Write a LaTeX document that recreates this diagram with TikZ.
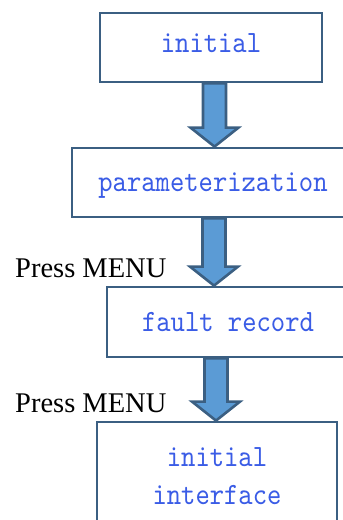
\documentclass[tikz,border=0pt]{standalone}
\usepackage{fontspec}
\setmainfont{Liberation Serif}
\newfontfamily\stepfont[FakeStretch=0.88]{lmmono10-regular.otf}
\usetikzlibrary{calc}

\definecolor{boxline}{HTML}{3B5F82}
\definecolor{arrowfill}{HTML}{5B9BD5}
\definecolor{textblue}{HTML}{3A5CE6}

\tikzset{
  stepbox/.style={draw=boxline, line width=2.8pt, fill=white, inner sep=0pt,
    align=center, text=textblue, font=\fontsize{31}{38}\selectfont\stepfont},
  fatarrow/.style={draw=boxline, fill=arrowfill, line width=2.6pt, line join=miter,
    to path={let \p1=(\tikztostart), \p2=(\tikztotarget) in
      (\x1-11.5pt,\y1) -- (\x1+11.5pt,\y1) -- (\x1+11.5pt,\y2+19pt)
      -- (\x1+24pt,\y2+19pt) -- (\x2,\y2) -- (\x1-24pt,\y2+19pt)
      -- (\x1-11.5pt,\y2+19pt) -- cycle}},
  presslabel/.style={anchor=base west, inner sep=0pt, font=\fontsize{28.5}{34}\selectfont}
}

\begin{document}
\begin{tikzpicture}[x=1pt,y=-1pt]

    \useasboundingbox (0,0) rectangle (343,520);
    \clip (0,0) rectangle (343,520);

    % steps
    \node[stepbox, minimum width=222pt, minimum height=69pt, text depth=9pt] (init) at (211,47.5) {initial};
    \node[stepbox, minimum width=282pt, minimum height=69pt, text height=25pt] (param) at (213,182.5) {parameterization};
    \node[stepbox, minimum width=242pt, minimum height=70pt] (fault) at (228,322) {fault record};
    \node[stepbox, minimum width=240pt, minimum height=108pt] (home) at (217,476) {initial\\interface};

    % arrow axes
    \coordinate (ax1) at (214.5,0);
    \coordinate (ax2) at (214,0);
    \coordinate (ax3) at (216,0);

    % block arrows
    \draw[fatarrow] (init.south -| ax1) to (param.north -| ax1);
    \draw[fatarrow] (param.south -| ax2) to (fault.north -| ax2);
    \draw[fatarrow] (fault.south -| ax3) to (home.north -| ax3);

    % key presses
    \node[presslabel] (press1) at (15,277) {Press MENU};
    \node[presslabel] (press2) at (15,412) {Press MENU};

\end{tikzpicture}
\end{document}
